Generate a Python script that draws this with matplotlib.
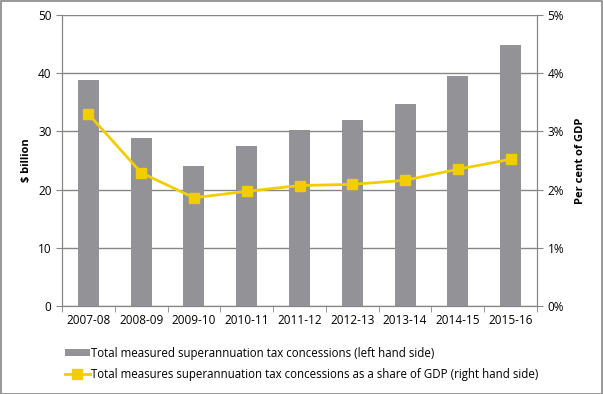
import numpy as np
import matplotlib.pyplot as plt
from matplotlib.patches import Rectangle

years = ['2007-08', '2008-09', '2009-10', '2010-11', '2011-12',
         '2012-13', '2013-14', '2014-15', '2015-16']
concessions = [38.9, 28.8, 24.1, 27.5, 30.2, 31.9, 34.7, 39.6, 44.8]
share_gdp = [3.30, 2.29, 1.86, 1.97, 2.07, 2.09, 2.16, 2.35, 2.52]

bar_col = '#939296'
line_col = '#F2CE00'
axis_col = '#868686'

plt.rcParams['font.family'] = ['Open Sans', 'DejaVu Sans']
plt.rcParams['font.size'] = 8

fig = plt.figure(figsize=(6.03, 3.94), dpi=100)
fig.patches.append(Rectangle((0.001, 0.001), 0.997, 0.997, transform=fig.transFigure,
                             fill=False, edgecolor=axis_col, lw=1.2))

ax = fig.add_axes([62 / 603, 88 / 394, 475 / 603, 291 / 394])
x = np.arange(len(years))
bars = ax.bar(x, concessions, width=0.4, color=bar_col, zorder=2,
              label='Total measured superannuation tax concessions (left hand side)')
ax.set_xlim(-0.5, len(years) - 0.5)
ax.set_ylim(0, 50)
ax.set_yticks(range(0, 51, 10))
ax.grid(axis='y', color=axis_col, lw=1, zorder=0)
ax.set_axisbelow(True)
ax.set_xticks(x)
ax.set_xticklabels(years, fontsize=8.5)
ax.set_xticks(np.arange(-0.5, len(years)), minor=True)
ax.tick_params(axis='x', which='major', length=0, pad=6)
ax.tick_params(axis='x', which='minor', length=4, color=axis_col)
ax.tick_params(axis='y', length=4, color=axis_col, labelsize=8.5)
ax.set_ylabel('$ billion', fontweight='bold', fontsize=8)
ax.spines['top'].set_visible(False)
for s in ['left', 'bottom', 'right']:
    ax.spines[s].set_color(axis_col)

ax2 = ax.twinx()
line, = ax2.plot(x, share_gdp, color=line_col, lw=2, marker='s', markersize=7,
                 label='Total measures superannuation tax concessions as a share of GDP (right hand side)',
                 zorder=3)
ax2.set_ylim(0, 5)
ax2.set_yticks(range(0, 6))
ax2.set_yticklabels([f'{v}%' for v in range(0, 6)])
ax2.tick_params(axis='y', length=4, color=axis_col, labelsize=8.5)
ax2.set_ylabel('Per cent of GDP', fontweight='bold', fontsize=8, labelpad=8)
ax2.spines['top'].set_visible(False)
for s in ['left', 'bottom', 'right']:
    ax2.spines[s].set_color(axis_col)

fig.legend(handles=[bars, line], loc='upper left', bbox_to_anchor=(60 / 603, 1 - 342 / 394),
           frameon=False, fontsize=8.3, handlelength=2.2, handletextpad=0.1,
           labelspacing=0.7, borderaxespad=0, handleheight=0.5)

fig.savefig('out.png', dpi=100)
